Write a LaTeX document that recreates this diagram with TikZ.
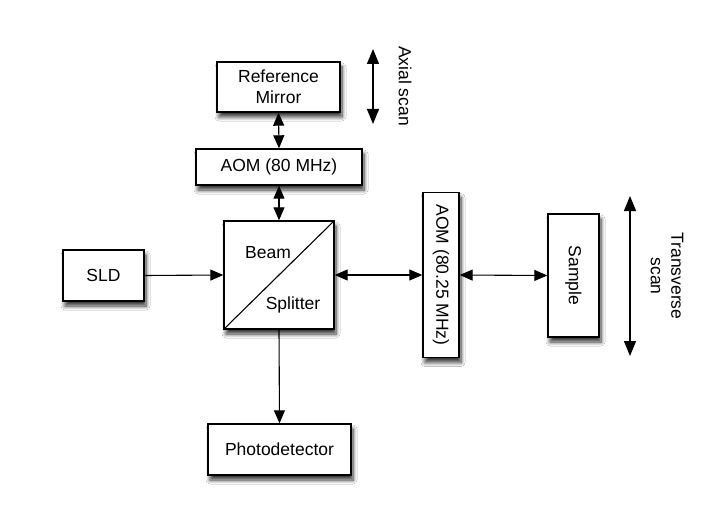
\documentclass[tikz,border=0pt]{standalone}
\usepackage{fontspec}
\setmainfont{Liberation Sans}
\usetikzlibrary{arrows.meta,shadows.blur}
\begin{document}
\begin{tikzpicture}[x=1pt,y=1pt,
  font=\fontsize{17.5}{20.5}\selectfont,
  box/.style={draw, line width=1.4pt, fill=white, inner sep=0pt, align=center,
    blur shadow={shadow xshift=2pt, shadow yshift=-5pt, shadow blur steps=8, shadow blur radius=4pt, shadow opacity=80}},
  conn/.style={line width=1.1pt, -{Triangle[length=13pt,width=11pt]}},
  dconn/.style={line width=1.1pt, {Triangle[length=13pt,width=11pt]}-{Triangle[length=13pt,width=11pt]}},
  scanarr/.style={line width=1.3pt, {Triangle[length=15pt,width=12pt]}-{Triangle[length=15pt,width=12pt]}}]
\useasboundingbox[fill=white] (0,0) rectangle (725,-513);

\node[box, minimum width=123pt, minimum height=50pt] (ref) at (278.5,-87) {Reference\\Mirror};
\node[box, minimum width=166pt, minimum height=36pt] (aoma) at (279,-167) {AOM (80 MHz)};
\node[box, minimum width=110pt, minimum height=108pt] (bs) at (279,-275) {};
\node[box, minimum width=81pt, minimum height=51pt] (sld) at (103.5,-275.5) {SLD};
\node[box, minimum width=143pt, minimum height=51pt] (pd) at (279.5,-449.5) {Photodetector};
\node[box, minimum width=36pt, minimum height=165pt] (aomb) at (441,-275) {};
\node[rotate=-90] (aombt) at (aomb.center) {AOM (80.25 MHz)};
\node[box, minimum width=51pt, minimum height=123pt] (sample) at (573.5,-275.5) {};
\node[rotate=-90] (samplet) at (sample.center) {Sample};

\draw[line width=1.1pt] (bs.south west) -- (bs.north east);
\node (beam) at (268,-253) {Beam};
\node (split) at (293,-305) {Splitter};

\draw[dconn] (ref.south) -- (aoma.north);
\draw[dconn] (aoma.south) -- (bs.north);
\draw[conn] (sld.east) -- (bs.west);
\draw[dconn] (bs.east) -- (aomb.west);
\draw[dconn] (aomb.east) -- (sample.west);
\draw[conn] (bs.south) -- (pd.north);

\coordinate (ax1) at (373,-49);
\coordinate (ax2) at (373,-124);
\draw[scanarr] (ax1) -- (ax2);
\node[rotate=-90] (axl) at (405,-86) {Axial scan};

\coordinate (tr1) at (630,-196);
\coordinate (tr2) at (630,-356);
\draw[scanarr] (tr1) -- (tr2);
\node[rotate=-90, align=center] (trl) at (667,-276) {Transverse\\scan};
\end{tikzpicture}
\end{document}
